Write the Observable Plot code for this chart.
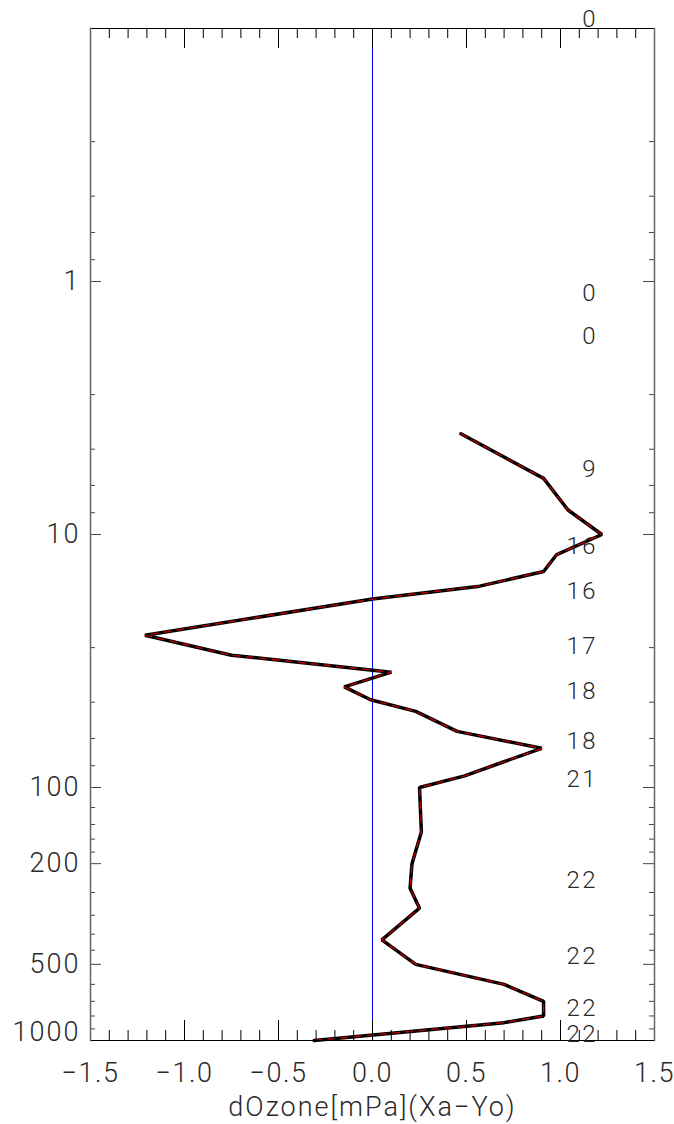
<!DOCTYPE html>
<html>
<head>
<meta charset="utf-8">
<script src="https://cdn.jsdelivr.net/npm/d3@7"></script>
<script src="https://cdn.jsdelivr.net/npm/@observablehq/plot@0.6"></script>
<style>
  html, body { margin: 0; padding: 0; background: #fff; }
  #chart svg { display: block; }
  #chart svg text { letter-spacing: 2px; }
  #chart svg g.xlab text { letter-spacing: 1.5px; }
  #chart svg g.cnt text { letter-spacing: 2.5px; }
</style>
</head>
<body>
<div id="chart"></div>
<script>
// Profile: pressure levels (hPa) and ozone difference (mPa)
const pressure = [4, 6, 8, 10, 12, 14, 16, 18, 25, 30, 35, 40, 45, 50, 60, 70, 80, 90, 100, 150, 200, 250, 300, 400, 500, 600, 700, 800, 850, 1000];
const dOzone   = [0.47, 0.91, 1.04, 1.22, 0.98, 0.91, 0.57, 0.0, -1.21, -0.75, 0.10, -0.15, -0.01, 0.23, 0.45, 0.90, 0.68, 0.49, 0.25, 0.26, 0.21, 0.20, 0.25, 0.05, 0.23, 0.70, 0.91, 0.91, 0.70, -0.31];

// Number of observations per layer (right-hand annotations)
const countPressure = [0.0916, 1.11, 1.65, 5.55, 11.1, 16.7, 27.7, 41.6, 65.6, 93.2, 232, 466, 749, 941];
const counts        = [0, 0, 0, 9, 16, 16, 17, 18, 18, 21, 22, 22, 22, 22];

// Axis ticks
const yMajorTicks = [0.1, 1, 10, 100, 200, 500, 1000];
const yLabelTicks = [1, 10, 100, 200, 500];
const yBottomLabel = [1000];
const yMinorTicks = [0.28, 0.46, 0.64, 0.82, 2.8, 4.6, 6.4, 8.2, 28, 46, 64, 82, 120, 140, 160, 180, 260, 320, 380, 440, 600, 700, 800, 900];
const xMajorTicks = [-1.5, -1.0, -0.5, 0.0, 0.5, 1.0, 1.5];
const xMinorTicks = [-1.4, -1.3, -1.2, -1.1, -0.9, -0.8, -0.7, -0.6, -0.4, -0.3, -0.2, -0.1, 0.1, 0.2, 0.3, 0.4, 0.6, 0.7, 0.8, 0.9, 1.1, 1.2, 1.3, 1.4];
const xTitle = "dOzone[mPa](Xa−Yo)";

const profile = pressure.map((p, i) => ({p, v: dOzone[i]}));
const countRows = countPressure.map((p, i) => ({p, n: counts[i]}));

const W = 674, H = 1124;
const mL = 90, mR = 20, mT = 28, mB = 84;
const pw = W - mL - mR, ph = H - mT - mB;
const font = "Roboto, 'DejaVu Sans', sans-serif";
const textColor = "#2a2a2a";
const fs = 27, fw = 300;

const plot = Plot.plot({
  width: W,
  height: H,
  marginLeft: mL,
  marginRight: mR,
  marginTop: mT,
  marginBottom: mB,
  style: {fontFamily: font, fontSize: fs + "px", fontWeight: fw, color: textColor, background: "#fff"},
  x: {domain: [-1.5, 1.5]},
  y: {type: "log", domain: [0.1, 1000], reverse: true},
  marks: [
    // zero line
    Plot.ruleX([0], {stroke: "#0000ff", strokeWidth: 1}),
    // profile: black line with red dashed overlay
    Plot.line(profile, {x: "v", y: "p", stroke: "#000", strokeWidth: 3.5, strokeLinejoin: "miter"}),
    Plot.line(profile, {x: "v", y: "p", stroke: "#c00000", strokeWidth: 1.3, strokeDasharray: "7,6"}),
    // inner ticks: y (left & right)
    Plot.ruleY(yMajorTicks, {insetRight: pw - 11, stroke: "#444"}),
    Plot.ruleY(yMajorTicks, {insetLeft: pw - 11, stroke: "#444"}),
    Plot.ruleY(yMinorTicks, {insetRight: pw - 5, stroke: "#444"}),
    Plot.ruleY(yMinorTicks, {insetLeft: pw - 5, stroke: "#444"}),
    // inner ticks: x (top & bottom)
    Plot.ruleX(xMajorTicks, {insetBottom: ph - 20, stroke: "#000"}),
    Plot.ruleX(xMajorTicks, {insetTop: ph - 20, stroke: "#000"}),
    Plot.ruleX(xMinorTicks, {insetBottom: ph - 10, stroke: "#000"}),
    Plot.ruleX(xMinorTicks, {insetTop: ph - 10, stroke: "#000"}),
    // frame: top/bottom black, sides grey
    Plot.frame({anchor: "top", stroke: "#000"}),
    Plot.frame({anchor: "bottom", stroke: "#000"}),
    Plot.frame({anchor: "left", stroke: "#666", strokeWidth: 1.5}),
    Plot.frame({anchor: "right", stroke: "#666", strokeWidth: 1.5}),
    // axis labels
    Plot.axisY(yLabelTicks, {anchor: "left", tickSize: 0, tickPadding: 10, tickFormat: d => String(d), fill: textColor, fontSize: fs, fontWeight: fw, label: null}),
    Plot.axisY(yBottomLabel, {anchor: "left", tickSize: 0, tickPadding: 10, dy: -8, tickFormat: d => String(d), fill: textColor, fontSize: fs, fontWeight: fw, label: null}),
    Plot.axisX(xMajorTicks, {anchor: "bottom", tickSize: 0, tickPadding: 22, tickFormat: d3.format(".1f"), fill: textColor, fontSize: fs, fontWeight: fw, label: null, className: "xlab"}),
    // x title
    Plot.text([xTitle], {text: d => d, frameAnchor: "bottom", dy: 75, fill: textColor, fontSize: fs, fontWeight: fw}),
    // counts
    Plot.text(countRows, {x: () => 1.2, y: "p", text: "n", textAnchor: "end", lineAnchor: "middle", fill: textColor, fontSize: 24, fontWeight: fw, className: "cnt"})
  ]
});

document.getElementById("chart").appendChild(plot);
</script>
</body>
</html>
